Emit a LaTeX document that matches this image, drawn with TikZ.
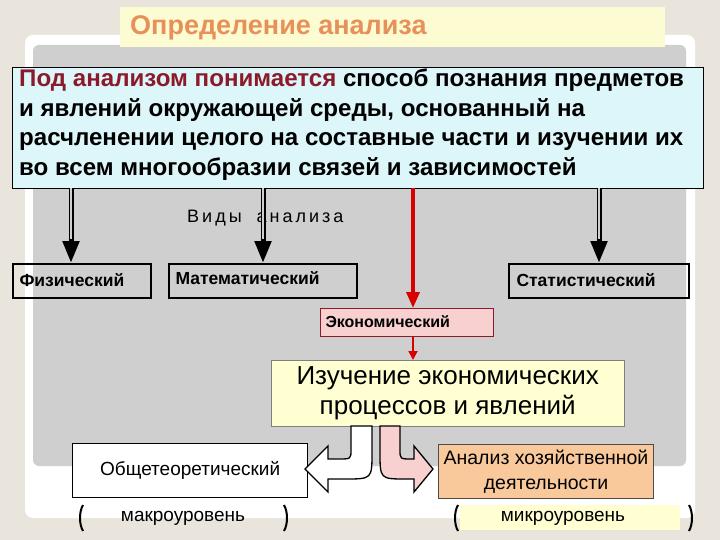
\documentclass[tikz,border=0pt]{standalone}
\usepackage{fontspec}
\setmainfont{Liberation Sans}
\usetikzlibrary{arrows.meta}
\definecolor{bg}{HTML}{E9E5DC}
\definecolor{panel}{HTML}{CFCFCF}
\definecolor{titlebg}{HTML}{FDFBD2}
\definecolor{titlefg}{HTML}{E8905A}
\definecolor{defbg}{HTML}{DDF6FA}
\definecolor{darkred}{HTML}{8B1A2A}
\definecolor{pinkbg}{HTML}{F8D0D0}
\definecolor{yelbg}{HTML}{FFFFD2}
\definecolor{orbg}{HTML}{F9C99C}
\tikzset{x=1pt,y=-1pt,
 kind/.style={draw=black,line width=1.5pt,anchor=north west,inner sep=0pt},
 kindtext/.style={anchor=west,font=\bfseries\fontsize{17.5}{20}\selectfont},
 bigarrow/.style={-{Triangle[length=22pt,width=16pt]},line width=5pt,black},
 gap/.style={line width=2pt,panel,shorten >=24pt},
 redarrow/.style={-{Triangle[length=16pt,width=13pt]},line width=3.5pt,red!85!black},
}
\begin{document}
\begin{tikzpicture}
\useasboundingbox (0,0) rectangle (720,540);
\fill[bg] (0,0) rectangle (720,540);
\fill[white,rounded corners=8pt] (25,35) rectangle (695,518);
\fill[panel,rounded corners=6pt] (33,45) rectangle (686,466);
% title
\node[fill=titlebg,minimum width=545pt,minimum height=40pt,anchor=north west,inner sep=0pt] (title) at (120,7) {};
\node[anchor=west,text=titlefg,inner sep=0pt,font=\bfseries\fontsize{27}{30}\selectfont] (titletext) at (130,28) {Определение анализа};
% definition
\node[draw=black,line width=1pt,fill=defbg,minimum width=691pt,minimum height=121pt,anchor=north west,inner sep=0pt] (def) at (12,67) {};
\node[anchor=north west,align=left,inner sep=0pt,font=\bfseries\fontsize{24.1}{29.5}\selectfont] (deftext) at (19,69)
 {\textcolor{darkred}{Под анализом понимается} способ познания предметов\\и явлений окружающей среды, основанный на\\расчленении целого на составные части и изучении их\\во всем многообразии связей и зависимостей};
% kinds
\node[font=\fontsize{18}{22}\selectfont,anchor=west,inner sep=0pt] (vidy) at (187,218) {В\,и\,д\,ы \ \ а\,н\,а\,л\,и\,з\,а};
\node[kind,minimum width=138pt,minimum height=34pt] (phys) at (12,263) {};
\node[kindtext] at (16,280) {Физический};
\node[kind,minimum width=188pt,minimum height=34pt] (math) at (168,263) {};
\node[kindtext] at (172,278) {Математический};
\node[kind,minimum width=180pt,minimum height=34pt] (stat) at (508,263) {};
\node[kindtext] at (513,280) {Статистический};
\node[draw=darkred,line width=1.3pt,fill=pinkbg,minimum width=173pt,minimum height=28pt,anchor=north west,inner sep=0pt] (econ) at (320,308) {};
\node[anchor=west,font=\bfseries\fontsize{16}{18}\selectfont] at (322,322) {Экономический};
\node[draw=gray,fill=yelbg,minimum width=353pt,minimum height=66pt,anchor=north west,inner sep=0pt,align=center,font=\fontsize{26}{30}\selectfont] (study) at (271,360) {Изучение экономических\\процессов и явлений};
\node[draw=black,line width=1.3pt,fill=white,minimum width=235pt,minimum height=54pt,anchor=north west,inner sep=0pt,font=\fontsize{19}{22}\selectfont] (gen) at (72,443) {Общетеоретический};
\node[draw=black!70,line width=1pt,fill=orbg,minimum width=215pt,minimum height=54pt,anchor=north west,inner sep=0pt,align=center,font=\fontsize{19.5}{25}\selectfont] (hoz) at (438,444) {Анализ хозяйственной\\деятельности};
% arrows
\coordinate (s1) at (71,188); \coordinate (s2) at (263,188); \coordinate (s3) at (599,188); \coordinate (s4) at (413,188);
\draw[bigarrow] (s1) -- (s1 |- phys.north);
\draw[gap] (s1) -- (s1 |- phys.north);
\draw[bigarrow] (s2) -- (s2 |- math.north);
\draw[gap] (s2) -- (s2 |- math.north);
\draw[bigarrow] (s3) -- (s3 |- stat.north);
\draw[gap] (s3) -- (s3 |- stat.north);
\draw[redarrow] (s4) -- (s4 |- econ.north);
\draw[-{Triangle[length=9pt,width=9pt]},line width=1.8pt,red!85!black] (econ.south -| s4) -- (study.north -| s4);
% block arrows
\draw[line width=1.3pt,fill=white,line join=miter] (372,426) -- (372,452) .. controls (372,479) .. (345,479) -- (328,479) -- (328,492) -- (305,469) -- (328,446) -- (328,459) -- (338,459) .. controls (351,459) .. (351,450) -- (351,426) -- cycle;
\draw[line width=1.3pt,fill=pinkbg,line join=miter] (380,426) -- (380,452) .. controls (380,479) .. (406,479) -- (414,479) -- (414,492) -- (433,469) -- (414,446) -- (414,459) -- (412,459) .. controls (400,459) .. (400,450) -- (400,426) -- cycle;
% brackets
\fill[yelbg] (460,505) rectangle (680,530);
\node[font=\fontsize{19}{22}\selectfont] (macro) at (183,518) {макроуровень};
\node[font=\fontsize{19}{22}\selectfont] (micro) at (563,518) {микроуровень};
\draw[line width=2pt] (83,505) .. controls (79,512) and (79,524) .. (83,531);
\draw[line width=2pt] (284,505) .. controls (288,512) and (288,524) .. (284,531);
\draw[line width=2pt] (458,505) .. controls (454,512) and (454,524) .. (458,531);
\draw[line width=2pt] (689,505) .. controls (693,512) and (693,524) .. (689,531);
\end{tikzpicture}
\end{document}
